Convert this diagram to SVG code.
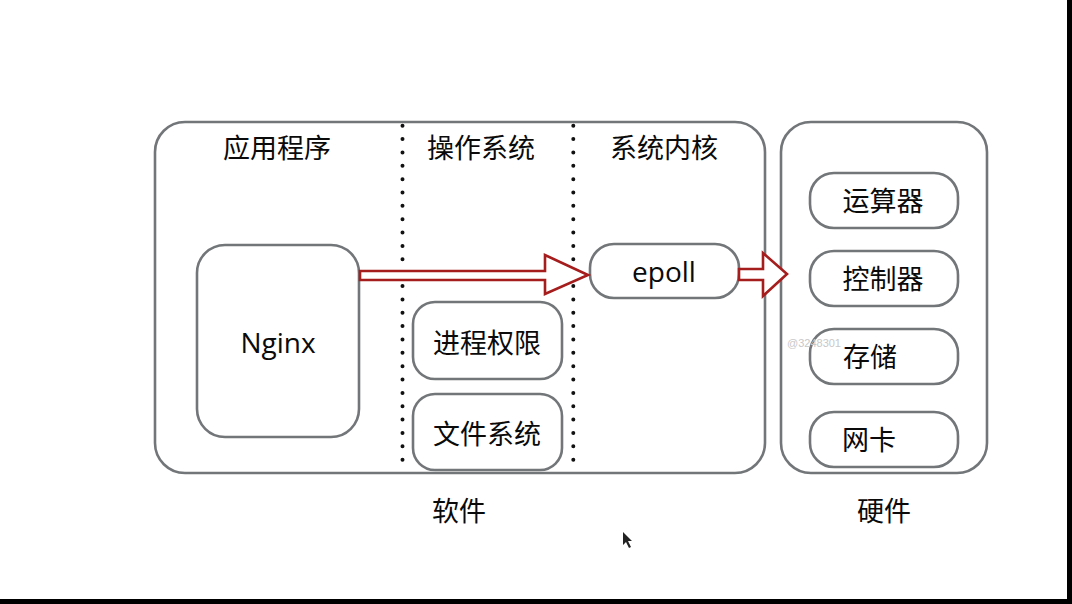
<svg xmlns="http://www.w3.org/2000/svg" width="1072" height="604" viewBox="0 0 1072 604">
<style>
.box{fill:#fff;stroke:#737679;stroke-width:2.6}
.big{fill:none;stroke:#737679;stroke-width:2.6}
.cjk{font-family:"Noto Sans CJK SC","Noto Sans",sans-serif;font-size:27px;fill:#0a0a0a}
.lat{font-family:"Open Sans","Noto Sans",sans-serif;font-size:28px;fill:#0a0a0a}
.dots{stroke:#111;stroke-width:4;stroke-linecap:round;stroke-dasharray:0 13.36;fill:none}
.arrow{fill:#fff;stroke:#a51d1d;stroke-width:2.6;stroke-linejoin:miter}
</style>
<rect x="0" y="0" width="1072" height="604" fill="#fff"/>
<rect x="1067" y="0" width="5" height="604" fill="#000"/>
<rect x="0" y="599" width="1072" height="5" fill="#000"/>
<g id="software">
<rect class="big" x="155" y="122" width="610" height="351" rx="30"/>
<text class="cjk" x="277" y="158" text-anchor="middle">应用程序</text>
<text class="cjk" x="481" y="158" text-anchor="middle">操作系统</text>
<text class="cjk" x="664" y="158" text-anchor="middle">系统内核</text>
<text class="cjk" x="459" y="521" text-anchor="middle">软件</text>
</g>
<g id="dividers">
<line class="dots" x1="402.5" y1="125.7" x2="402.5" y2="460"/>
<line class="dots" x1="573.3" y1="125.7" x2="573.3" y2="460"/>
</g>
<g id="hardware">
<rect class="big" x="781" y="122" width="206" height="351" rx="30"/>
<text class="cjk" x="884" y="521" text-anchor="middle">硬件</text>
</g>
<g id="nginx">
<rect class="box" x="197" y="245" width="162" height="192" rx="28"/>
<text class="lat" x="278" y="353" text-anchor="middle">Nginx</text>
</g>
<g id="proc">
<rect class="box" x="413" y="302" width="149" height="77" rx="22"/>
<text class="cjk" x="487" y="353" text-anchor="middle">进程权限</text>
</g>
<g id="fs">
<rect class="box" x="413" y="394" width="149" height="76" rx="22"/>
<text class="cjk" x="487" y="444" text-anchor="middle">文件系统</text>
</g>
<g id="epoll">
<rect class="box" x="590" y="244" width="149" height="54" rx="24"/>
<text class="lat" x="664" y="282" text-anchor="middle">epoll</text>
</g>
<g id="alu">
<rect class="box" x="810" y="173" width="148" height="55" rx="24"/>
<text class="cjk" x="883" y="211" text-anchor="middle">运算器</text>
</g>
<g id="ctrl">
<rect class="box" x="810" y="251" width="148" height="55" rx="24"/>
<text class="cjk" x="883" y="289" text-anchor="middle">控制器</text>
</g>
<g id="storage">
<rect class="box" x="810" y="329" width="148" height="55" rx="24"/>
<text class="cjk" x="843" y="367">存储</text>
</g>
<g id="nic">
<rect class="box" x="810" y="412" width="148" height="55" rx="24"/>
<text class="cjk" x="842" y="450">网卡</text>
</g>
<g id="connectors">
<path class="arrow" d="M360,271 L545,271 L545,255 L588,275 L545,294 L545,280 L360,280 Z"/>
<path class="arrow" d="M739,269 L763,269 L763,253 L787,274 L763,296 L763,280 L739,280 Z"/>
</g>
<text x="787" y="347" font-family="Liberation Sans,sans-serif" font-size="11" fill="#c8c8c8">@3248301</text>
<path d="M623,532 L623,545 L626,542 L629,548 L631,547 L628,541 L632,541 Z" fill="#222"/>
</svg>
